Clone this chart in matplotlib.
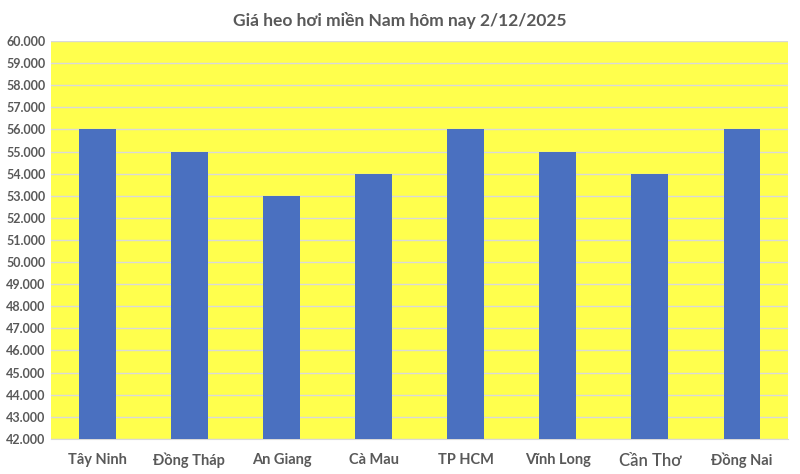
import matplotlib.pyplot as plt
import matplotlib.ticker as mticker
import numpy as np

provinces = ["Tây Ninh", "Đồng Tháp", "An Giang", "Cà Mau", "TP HCM",
             "Vĩnh Long", "Cần Thơ", "Đồng Nai"]
prices = [56000, 55000, 53000, 54000, 56000, 55000, 54000, 56000]

plt.rcParams['font.family'] = ['Lato', 'DejaVu Sans']

fig = plt.figure(figsize=(8, 4.74), dpi=100)
ax = fig.add_axes([0.064, 0.074, 0.921, 0.8395])
ax.set_facecolor("#FFFF4D")

x = np.arange(len(provinces))
ax.bar(x, [p - 42000 for p in prices], bottom=42000, width=0.4,
       color="#4A70C0", zorder=3)

ax.set_ylim(42000, 60000)
ax.set_xlim(-0.5, len(provinces) - 0.5)
ax.yaxis.set_major_locator(mticker.MultipleLocator(1000))
ax.yaxis.set_major_formatter(
    mticker.FuncFormatter(lambda v, _: f"{int(v):,}".replace(",", ".")))
ax.grid(axis="y", color="#D9D9D9", linewidth=1, zorder=0)

ax.set_xticks(x)
ax.set_xticklabels(provinces)
for lbl in ax.get_xticklabels():
    lbl.set_fontsize(10.5)
    lbl.set_fontweight("bold")
    lbl.set_color("#595959")
    if lbl.get_text() == "Cần Thơ":
        # this label is set larger and lighter in the original
        lbl.set_fontsize(12)
        lbl.set_fontweight("semibold")
for lbl in ax.get_yticklabels():
    lbl.set_fontsize(9)
    lbl.set_fontweight("bold")
    lbl.set_color("#595959")
ax.tick_params(axis="both", length=0)
ax.tick_params(axis="x", pad=10)
ax.tick_params(axis="y", pad=4)

for side in ["top", "right", "left"]:
    ax.spines[side].set_visible(False)
ax.spines["bottom"].set_color("#D9D9D9")

fig.suptitle("Giá heo hơi miền Nam hôm nay 2/12/2025", y=0.975,
             fontsize=12.5, fontweight="bold", color="#595959")

fig.savefig("out.png", dpi=100)
